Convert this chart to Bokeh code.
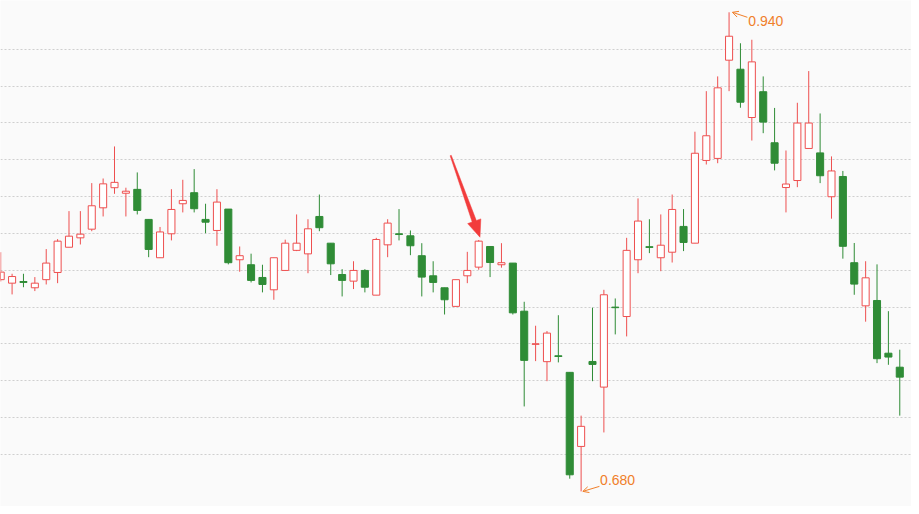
import math
from bokeh.plotting import figure
from bokeh.models import FixedTicker, Arrow, OpenHead, ColumnDataSource, Range1d
from bokeh.embed import file_html
from bokeh.resources import INLINE
from bokeh.core.properties import value

# ---- data ----
open_ = [0.7949, 0.7930, 0.7939, 0.7905, 0.7949, 0.7988, 0.8125, 0.8176, 0.8223, 0.8339,
         0.8448, 0.8418, 0.8439, 0.8276, 0.8068, 0.8198, 0.8361, 0.8421, 0.8276, 0.8216,
         0.8332, 0.8057, 0.8030, 0.7961, 0.7894, 0.7999, 0.8108, 0.8089, 0.8292, 0.8147,
         0.7977, 0.7941, 0.7999, 0.7865, 0.8138, 0.8198, 0.8187, 0.8079, 0.7970, 0.7905,
         0.7804, 0.7970, 0.8017, 0.8129, 0.8030, 0.8039, 0.7778, 0.7598, 0.7504, 0.7536,
         0.7446, 0.7044, 0.7505, 0.7366, 0.7800, 0.7749, 0.8057, 0.8128, 0.8068, 0.8098,
         0.8238, 0.8147, 0.8596, 0.8607, 0.9140, 0.9091, 0.8829, 0.8969, 0.8692, 0.8449,
         0.8487, 0.8661, 0.8637, 0.8399, 0.8509, 0.8041, 0.7807, 0.7836, 0.7550, 0.7474]
high = [0.8098, 0.7981, 0.7981, 0.7963, 0.8115, 0.8169, 0.8321, 0.8321, 0.8473, 0.8498,
        0.8672, 0.8448, 0.8531, 0.8276, 0.8235, 0.8440, 0.8491, 0.8549, 0.8361, 0.8440,
        0.8332, 0.8129, 0.8090, 0.8030, 0.8068, 0.8166, 0.8303, 0.8277, 0.8411, 0.8147,
        0.8006, 0.8049, 0.8006, 0.8176, 0.8277, 0.8332, 0.8216, 0.8147, 0.8049, 0.7905,
        0.7949, 0.8100, 0.8164, 0.8129, 0.8147, 0.8039, 0.7829, 0.7699, 0.7670, 0.7756,
        0.7446, 0.7211, 0.7797, 0.7894, 0.7847, 0.8176, 0.8390, 0.8277, 0.8303, 0.8411,
        0.8332, 0.8752, 0.8972, 0.9052, 0.9400, 0.9232, 0.9251, 0.9052, 0.8881, 0.8650,
        0.8909, 0.9081, 0.8851, 0.8618, 0.8539, 0.8148, 0.8049, 0.8032, 0.7778, 0.7569]
low = [0.7939, 0.7869, 0.7908, 0.7887, 0.7923, 0.7930, 0.8125, 0.8140, 0.8212, 0.8292,
       0.8415, 0.8292, 0.8303, 0.8071, 0.8068, 0.8162, 0.8314, 0.8314, 0.8201, 0.8133,
       0.8032, 0.7992, 0.7934, 0.7880, 0.7840, 0.7999, 0.8104, 0.7984, 0.8212, 0.7974,
       0.7858, 0.7898, 0.7880, 0.7865, 0.8071, 0.8162, 0.8082, 0.7858, 0.7880, 0.7760,
       0.7804, 0.7930, 0.8003, 0.7963, 0.8014, 0.7760, 0.7261, 0.7507, 0.7398, 0.7500,
       0.6869, 0.6800, 0.7398, 0.7120, 0.7652, 0.7641, 0.7984, 0.8093, 0.7995, 0.8042,
       0.8104, 0.8147, 0.8574, 0.8581, 0.8972, 0.8882, 0.8704, 0.8744, 0.8542, 0.8314,
       0.8451, 0.8661, 0.8473, 0.8280, 0.8063, 0.7867, 0.7721, 0.7496, 0.7487, 0.7211]
close = [0.7990, 0.7966, 0.7934, 0.7930, 0.8039, 0.8158, 0.8185, 0.8196, 0.8350, 0.8469,
         0.8477, 0.8429, 0.8325, 0.8113, 0.8208, 0.8330, 0.8379, 0.8334, 0.8261, 0.8370,
         0.8041, 0.8079, 0.7945, 0.7923, 0.8068, 0.8147, 0.8147, 0.8225, 0.8231, 0.8035,
         0.7945, 0.7999, 0.7908, 0.8167, 0.8256, 0.8194, 0.8133, 0.7963, 0.7934, 0.7840,
         0.7949, 0.7999, 0.8158, 0.8042, 0.8041, 0.7769, 0.7511, 0.7601, 0.7659, 0.7532,
         0.6890, 0.7153, 0.7489, 0.7867, 0.7797, 0.8108, 0.8267, 0.8124, 0.8136, 0.8330,
         0.8151, 0.8635, 0.8730, 0.8990, 0.9270, 0.8912, 0.9131, 0.8804, 0.8581, 0.8468,
         0.8799, 0.8799, 0.8513, 0.8539, 0.8130, 0.7925, 0.7959, 0.7520, 0.7529, 0.7420]
grid_levels = [0.70, 0.72, 0.74, 0.76, 0.78, 0.80, 0.82, 0.84, 0.86, 0.88, 0.90, 0.92]
marked_index = 42  # candle pointed at by the red arrow

# ---- styles ----
RED = "#ee4f4f"
GREEN = "#2f8c36"
ORANGE = "#f07f2a"
ARROW_RED = "#f23c3c"
BG = "#fafafa"

W, H = 911, 506
x0, x1 = -0.018, 80.03
y0, y1 = 0.6718, 0.9464
dx_px = (x1 - x0) / W   # data units per pixel
dy_px = (y1 - y0) / H

idx = list(range(len(open_)))
up = [i for i in idx if close[i] >= open_[i]]
dn = [i for i in idx if close[i] < open_[i]]

def src(sel):
    return ColumnDataSource(dict(
        x=sel,
        high=[high[i] for i in sel],
        low=[low[i] for i in sel],
        top=[max(open_[i], close[i]) for i in sel],
        bottom=[min(open_[i], close[i]) for i in sel],
    ))

up_src, dn_src = src(up), src(dn)

p = figure(width=W, height=H, x_range=Range1d(x0, x1), y_range=Range1d(y0, y1),
           output_backend="svg", toolbar_location=None,
           x_axis_location=None, y_axis_location=None, min_border=0,
           background_fill_color=BG, border_fill_color=BG, outline_line_color=None)

p.xgrid.grid_line_color = None
p.ygrid.ticker = FixedTicker(ticks=grid_levels)
p.ygrid.grid_line_color = "#cfcfcf"
p.ygrid.grid_line_dash = "2 2"
p.ygrid.grid_line_width = 1

BW = 0.62
p.segment(x0="x", y0="high", x1="x", y1="low", source=up_src, line_color=RED, line_width=1)
p.vbar(x="x", width=BW, top="top", bottom="bottom", source=up_src,
       fill_color="#ffffff", line_color=RED, line_width=1)
p.segment(x0="x", y0="high", x1="x", y1="low", source=dn_src, line_color=GREEN, line_width=1)
p.vbar(x="x", width=BW, top="top", bottom="bottom", source=dn_src,
       fill_color=GREEN, line_color=GREEN, line_width=1)

# ---- max / min labels ----
hi_i = max(idx, key=lambda i: high[i])
lo_i = min(idx, key=lambda i: low[i])

p.text(x=[hi_i + 19.3 * dx_px], y=[high[hi_i] - 9 * dy_px], text=[f"{high[hi_i]:.3f}"],
       text_font=value("Liberation Sans"), text_font_size="14px", text_color=ORANGE,
       text_baseline="middle", text_align="left")
p.add_layout(Arrow(end=OpenHead(size=6, line_color=ORANGE, line_width=1),
                   x_start=hi_i + 18.3 * dx_px, y_start=high[hi_i] - 5 * dy_px,
                   x_end=hi_i + 3.3 * dx_px, y_end=high[hi_i],
                   line_color=ORANGE, line_width=1))

p.text(x=[lo_i + 19 * dx_px], y=[low[lo_i] + 11 * dy_px], text=[f"{low[lo_i]:.3f}"],
       text_font=value("Liberation Sans"), text_font_size="14px", text_color=ORANGE,
       text_baseline="middle", text_align="left")
p.add_layout(Arrow(end=OpenHead(size=6, line_color=ORANGE, line_width=1),
                   x_start=lo_i + 18.3 * dx_px, y_start=low[lo_i] + 5 * dy_px,
                   x_end=lo_i + 1.7 * dx_px, y_end=low[lo_i],
                   line_color=ORANGE, line_width=1))

# ---- red pointer arrow (tapered) ----
T = (1.3, -2.8)      # pixel offsets from the marked candle's high (screen, y down)
S = (-28.0, -84.5)
L = math.hypot(T[0] - S[0], T[1] - S[1])
u = ((T[0] - S[0]) / L, (T[1] - S[1]) / L)
n = (-u[1], u[0])
B = (T[0] - 17 * u[0], T[1] - 17 * u[1])
pts = [
    (S[0] + 0.6 * n[0], S[1] + 0.6 * n[1]),
    (B[0] + 2.2 * n[0], B[1] + 2.2 * n[1]),
    (B[0] + 7.0 * n[0], B[1] + 7.0 * n[1]),
    T,
    (B[0] - 7.0 * n[0], B[1] - 7.0 * n[1]),
    (B[0] - 2.2 * n[0], B[1] - 2.2 * n[1]),
    (S[0] - 0.6 * n[0], S[1] - 0.6 * n[1]),
]
ax = [marked_index + px * dx_px for px, _ in pts]
ay = [high[marked_index] - py * dy_px for _, py in pts]
p.patch(ax, ay, fill_color=ARROW_RED, line_color=ARROW_RED, line_width=0.5)

open("out.html", "w").write(file_html(p, INLINE))
